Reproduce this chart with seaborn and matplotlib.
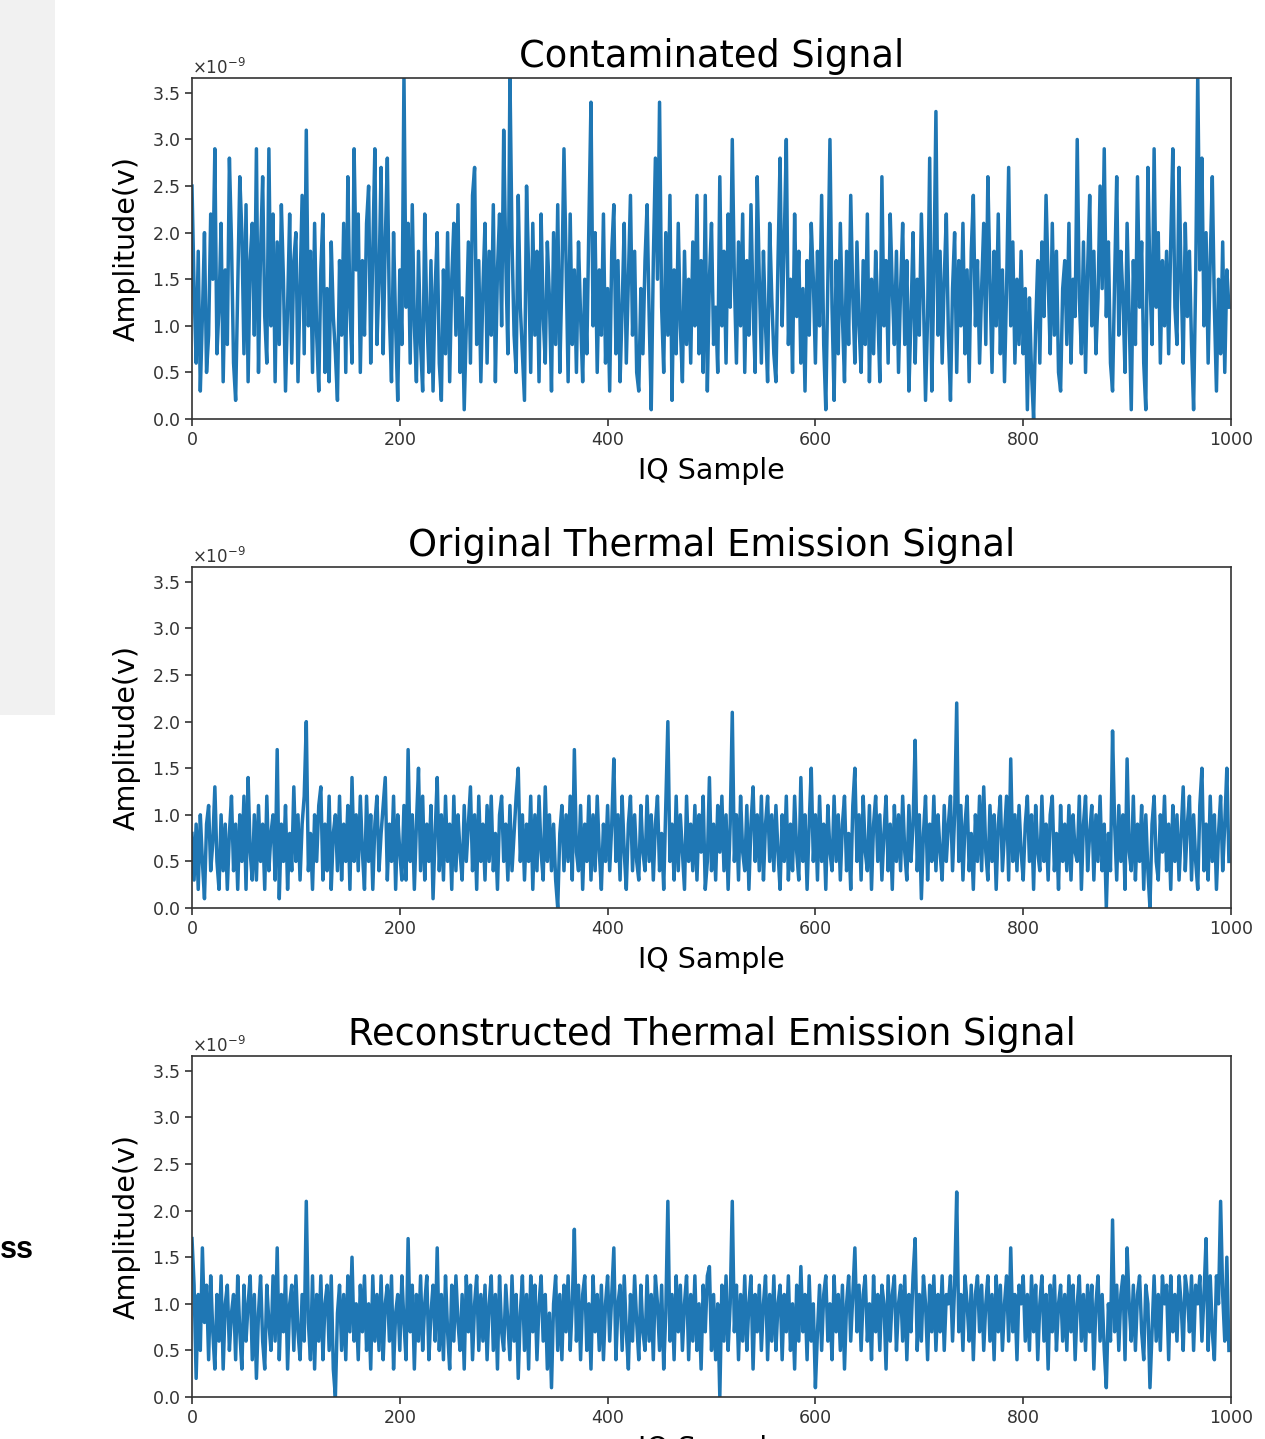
import numpy as np
import matplotlib
matplotlib.use("Agg")
import matplotlib.pyplot as plt
from matplotlib.patches import Rectangle
import seaborn as sns

# ---- data (amplitude in units of 1e-10 V, one value every 2 IQ samples) ----
SAMPLE_STEP = 2

contaminated = [
    25, 14, 6, 18, 3, 11, 20, 5, 9, 22, 15, 29, 7, 12, 21, 4, 16, 8, 28, 19,
    6, 2, 14, 26, 20, 7, 23, 4, 17, 21, 9, 29, 5, 18, 26, 11, 6, 29, 10, 22,
    4, 19, 8, 23, 15, 3, 12, 22, 6, 17, 20, 4, 14, 24, 7, 31, 10, 18, 5, 21,
    9, 3, 16, 22, 5, 14, 4, 19, 11, 7, 2, 17, 9, 21, 5, 26, 12, 6, 29, 16,
    22, 5, 17, 9, 21, 25, 6, 18, 29, 8, 15, 27, 7, 19, 28, 11, 4, 20, 10, 2,
    16, 8, 37, 12, 21, 6, 23, 10, 4, 18, 8, 3, 22, 11, 5, 17, 3, 14, 20, 6,
    2, 16, 7, 20, 4, 15, 21, 9, 23, 5, 13, 1, 10, 19, 6, 24, 27, 8, 17, 4,
    14, 21, 6, 18, 9, 23, 4, 16, 22, 10, 31, 17, 7, 37, 19, 9, 5, 24, 12, 7,
    2, 25, 16, 5, 21, 9, 18, 4, 22, 11, 6, 19, 13, 3, 20, 8, 23, 5, 15, 29,
    17, 4, 22, 8, 16, 5, 19, 11, 4, 15, 7, 21, 34, 10, 20, 5, 16, 9, 22, 6,
    14, 3, 18, 23, 7, 17, 4, 12, 21, 6, 15, 24, 9, 18, 5, 3, 14, 7, 17, 23,
    11, 1, 17, 28, 15, 34, 12, 5, 20, 9, 24, 2, 16, 7, 21, 10, 4, 18, 8, 15,
    6, 19, 10, 24, 7, 17, 5, 24, 3, 15, 21, 8, 12, 5, 26, 10, 18, 6, 22, 12,
    30, 15, 6, 19, 10, 22, 5, 17, 9, 23, 12, 5, 26, 15, 6, 18, 10, 4, 21, 13,
    7, 4, 17, 28, 10, 19, 30, 8, 15, 5, 22, 11, 18, 6, 14, 3, 17, 9, 21, 15,
    6, 18, 10, 24, 8, 1, 15, 30, 12, 2, 17, 7, 21, 11, 4, 18, 8, 24, 13, 6,
    19, 10, 5, 17, 8, 22, 4, 15, 7, 18, 12, 4, 26, 10, 17, 6, 22, 14, 8, 18,
    5, 14, 21, 8, 17, 3, 11, 20, 6, 15, 9, 22, 13, 2, 11, 28, 3, 15, 33, 9,
    18, 6, 15, 22, 9, 2, 14, 20, 5, 17, 10, 21, 7, 16, 4, 18, 24, 10, 17, 6,
    14, 21, 8, 26, 15, 5, 18, 10, 22, 7, 16, 4, 14, 27, 10, 19, 6, 15, 8, 18,
    7, 14, 1, 13, 5, 0, 10, 17, 6, 19, 11, 24, 15, 7, 21, 9, 18, 5, 3, 14,
    17, 8, 21, 6, 15, 11, 30, 13, 7, 19, 5, 16, 24, 10, 18, 7, 13, 25, 14, 29,
    11, 19, 6, 3, 15, 26, 9, 18, 13, 5, 21, 11, 1, 17, 8, 26, 12, 19, 6, 1,
    27, 15, 8, 29, 12, 20, 6, 17, 10, 18, 7, 19, 29, 12, 8, 27, 15, 6, 21, 11,
    18, 8, 1, 15, 37, 16, 28, 10, 20, 6, 17, 26, 12, 3, 15, 7, 19, 5, 16, 12,
]

original = [
    8, 3, 9, 2, 10, 5, 1, 9, 11, 4, 7, 13, 5, 2, 10, 4, 9, 2, 8, 12,
    4, 9, 2, 10, 5, 12, 2, 14, 6, 3, 10, 3, 11, 5, 9, 2, 12, 4, 8, 10,
    3, 17, 1, 9, 5, 11, 2, 8, 4, 13, 5, 10, 3, 9, 12, 20, 4, 8, 2, 10,
    5, 11, 13, 3, 9, 4, 12, 2, 8, 10, 4, 12, 3, 9, 5, 11, 2, 14, 5, 10,
    4, 12, 6, 2, 12, 5, 10, 2, 9, 12, 4, 8, 11, 14, 3, 9, 5, 12, 2, 10,
    6, 3, 11, 3, 17, 5, 10, 2, 9, 15, 4, 12, 3, 9, 5, 11, 1, 8, 14, 4,
    10, 3, 12, 5, 9, 2, 12, 4, 10, 6, 3, 11, 5, 9, 13, 4, 10, 2, 12, 5,
    9, 3, 11, 5, 12, 4, 8, 2, 10, 12, 5, 9, 3, 11, 4, 8, 12, 15, 5, 10,
    3, 9, 5, 12, 2, 10, 4, 12, 6, 3, 13, 5, 10, 4, 9, 3, 0, 8, 11, 4,
    10, 5, 12, 3, 17, 6, 4, 11, 2, 9, 5, 12, 3, 10, 4, 12, 6, 2, 9, 5,
    11, 4, 9, 16, 5, 10, 3, 12, 6, 2, 9, 12, 4, 10, 5, 3, 11, 6, 4, 12,
    5, 10, 3, 9, 12, 4, 8, 2, 11, 20, 5, 9, 3, 12, 4, 10, 6, 2, 12, 5,
    9, 4, 11, 3, 10, 6, 12, 2, 5, 14, 4, 9, 3, 11, 6, 12, 4, 10, 2, 9,
    21, 5, 10, 3, 12, 6, 4, 11, 2, 9, 13, 5, 10, 4, 12, 3, 9, 12, 5, 10,
    4, 11, 6, 2, 10, 5, 12, 3, 9, 4, 12, 6, 3, 14, 5, 10, 2, 9, 15, 5,
    10, 3, 12, 5, 9, 2, 11, 6, 4, 12, 5, 10, 3, 9, 12, 4, 8, 2, 11, 15,
    5, 10, 3, 12, 6, 4, 11, 2, 9, 12, 5, 10, 3, 8, 12, 4, 9, 2, 11, 5,
    10, 4, 12, 6, 3, 11, 5, 9, 18, 4, 10, 1, 8, 12, 3, 9, 5, 12, 4, 10,
    6, 3, 11, 5, 9, 12, 4, 10, 22, 5, 11, 3, 9, 12, 4, 8, 2, 10, 5, 12,
    4, 13, 6, 3, 11, 5, 10, 2, 9, 12, 4, 8, 12, 3, 16, 5, 10, 4, 11, 6,
    3, 9, 12, 5, 10, 2, 11, 6, 4, 12, 5, 9, 3, 10, 12, 4, 8, 2, 11, 5,
    9, 4, 11, 3, 10, 6, 5, 12, 2, 9, 12, 4, 8, 11, 3, 10, 5, 12, 4, 9,
    0, 8, 4, 19, 9, 3, 11, 5, 10, 2, 16, 6, 4, 12, 3, 9, 5, 11, 2, 10,
    4, 0, 9, 12, 5, 3, 10, 6, 12, 4, 9, 2, 11, 5, 10, 3, 8, 13, 4, 9,
    12, 3, 10, 5, 2, 11, 15, 4, 9, 3, 12, 5, 10, 2, 8, 12, 4, 9, 15, 5,
]

reconstructed = [
    17, 12, 2, 11, 5, 16, 8, 12, 4, 13, 7, 3, 11, 6, 13, 3, 10, 12, 5, 9,
    11, 4, 13, 7, 3, 12, 6, 10, 13, 4, 11, 2, 9, 13, 6, 3, 12, 8, 5, 13,
    6, 16, 4, 11, 7, 13, 3, 10, 12, 5, 13, 7, 4, 11, 6, 21, 8, 4, 13, 3,
    11, 6, 13, 4, 10, 12, 5, 13, 3, 0, 9, 12, 5, 11, 4, 13, 7, 15, 6, 10,
    4, 12, 7, 13, 5, 10, 3, 13, 6, 11, 5, 13, 4, 10, 12, 6, 13, 3, 9, 11,
    5, 13, 8, 4, 17, 7, 12, 3, 11, 6, 13, 5, 10, 13, 4, 9, 12, 6, 16, 5,
    11, 4, 13, 7, 3, 12, 6, 13, 8, 5, 11, 3, 13, 7, 12, 4, 10, 13, 5, 11,
    6, 12, 4, 10, 13, 5, 11, 3, 13, 7, 5, 12, 8, 4, 13, 6, 11, 2, 9, 13,
    5, 11, 3, 13, 7, 12, 4, 10, 13, 6, 11, 3, 9, 1, 10, 13, 5, 11, 4, 12,
    7, 13, 5, 10, 18, 6, 12, 4, 11, 13, 5, 10, 3, 13, 7, 11, 5, 12, 4, 10,
    13, 6, 11, 16, 4, 10, 12, 5, 13, 7, 3, 11, 6, 13, 8, 4, 12, 7, 5, 13,
    6, 11, 4, 13, 10, 5, 12, 3, 9, 21, 6, 11, 4, 13, 7, 12, 5, 10, 13, 4,
    11, 6, 13, 5, 10, 3, 12, 7, 13, 14, 5, 11, 4, 10, 0, 12, 6, 13, 5, 10,
    21, 7, 12, 4, 11, 6, 13, 5, 10, 13, 3, 11, 7, 12, 5, 10, 13, 4, 11, 6,
    13, 5, 10, 12, 4, 11, 7, 13, 5, 10, 3, 12, 6, 14, 7, 11, 4, 13, 6, 10,
    1, 7, 12, 5, 11, 13, 6, 10, 4, 13, 7, 11, 5, 12, 3, 10, 13, 6, 11, 16,
    7, 12, 5, 11, 13, 6, 10, 4, 13, 7, 11, 5, 12, 10, 3, 13, 6, 11, 13, 5,
    10, 12, 6, 13, 4, 11, 7, 13, 17, 5, 11, 6, 13, 10, 4, 12, 7, 13, 5, 11,
    7, 13, 5, 11, 10, 13, 6, 12, 22, 7, 11, 5, 13, 10, 6, 12, 4, 11, 13, 7,
    12, 5, 10, 13, 6, 11, 4, 13, 7, 12, 5, 10, 13, 6, 16, 7, 11, 4, 12, 10,
    13, 6, 11, 5, 13, 7, 12, 4, 10, 13, 6, 11, 3, 12, 7, 13, 5, 10, 12, 6,
    11, 5, 13, 7, 12, 4, 10, 13, 6, 11, 5, 12, 7, 12, 3, 10, 13, 6, 11, 5,
    1, 10, 6, 19, 7, 12, 5, 11, 13, 4, 16, 10, 6, 12, 5, 11, 13, 7, 4, 12,
    10, 1, 7, 13, 6, 11, 5, 13, 10, 12, 4, 13, 7, 11, 6, 13, 10, 5, 13, 11,
    7, 13, 5, 12, 10, 13, 6, 11, 17, 5, 13, 7, 4, 13, 10, 21, 11, 6, 15, 5,
]

titles = ["Contaminated Signal", "Original Thermal Emission Signal",
          "Reconstructed Thermal Emission Signal"]
x_label = "IQ Sample"
y_label = "Amplitude(v)"
x_ticks = [0, 200, 400, 600, 800, 1000]
y_ticks = [0.0, 0.5, 1.0, 1.5, 2.0, 2.5, 3.0, 3.5]
UNIT = 1e-10
Y_TOP = 3.66e-9

# ---- figure ----
W, H = 1265, 1439
fig = plt.figure(figsize=(W / 100, H / 100), dpi=100)
plt.rcParams['font.family'] = ['DejaVu Sans']

# screenshot artefacts: grey side panel and clipped text
fig.add_artist(Rectangle((0, 1 - 715 / H), 55 / W, 715 / H,
                         transform=fig.transFigure, facecolor='#f1f1f1',
                         edgecolor='none', zorder=0))
fig.text(0.0, 1 - 1250 / H, "ss", ha='left', va='center', fontsize=22,
         fontweight='bold', family=['Liberation Sans', 'DejaVu Sans'])

panels = [(78, 419), (567, 908), (1056, 1397)]
series = [contaminated, original, reconstructed]
left, right = 192, 1231

for (top, bot), vals, title in zip(panels, series, titles):
    ax = fig.add_axes([left / W, 1 - bot / H, (right - left) / W, (bot - top) / H])
    y = np.asarray(vals, dtype=float) * UNIT
    x = np.arange(len(y)) * SAMPLE_STEP
    sns.lineplot(x=x, y=y, ax=ax, color='#1f77b4', linewidth=2.5,
                 estimator=None, sort=False)
    ax.set_xlim(0, 1000)
    ax.set_ylim(0, Y_TOP)
    ax.set_xticks(x_ticks)
    ax.set_yticks(np.array(y_ticks) * 1e-9)
    ax.ticklabel_format(axis='y', style='sci', scilimits=(0, 0), useMathText=True)
    ax.yaxis.get_offset_text().set_fontsize(12)
    ax.yaxis.get_offset_text().set_color('#333333')
    ax.tick_params(labelsize=12.5, length=5, width=1.2, colors='#333333',
                   labelcolor='#333333')
    for s in ax.spines.values():
        s.set_linewidth(1.2)
        s.set_color('#333333')
    ax.set_title(title, fontsize=26.5, pad=8)
    ax.set_xlabel(x_label, fontsize=20.5, labelpad=6)
    ax.set_ylabel(y_label, fontsize=20.5, labelpad=8)

fig.savefig("out.png", dpi=100)
